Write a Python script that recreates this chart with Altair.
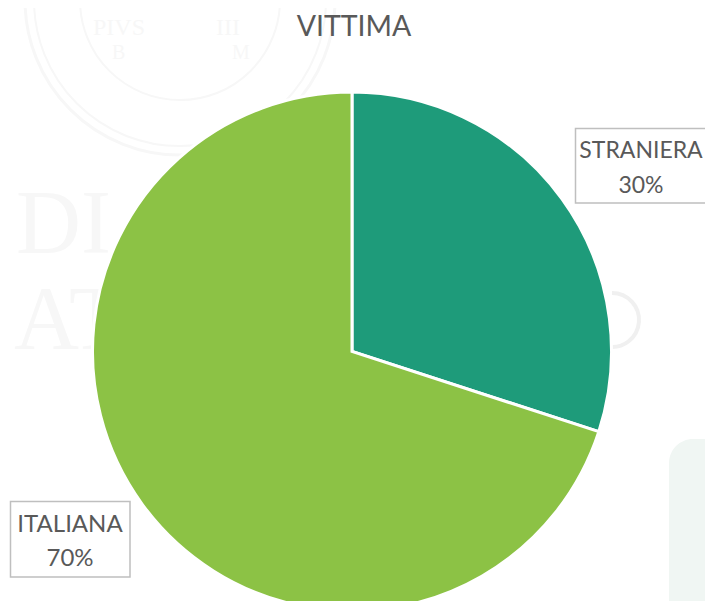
import altair as alt
import pandas as pd

labels = ["STRANIERA", "ITALIANA"]
shares = [30, 70]
colors = ["#1E9B7A", "#8CC245"]
title_text = "VITTIMA"
df = pd.DataFrame({"label": labels, "share": shares, "rank": [0, 1]})

GREY = "#595959"
FONT = "Lato"
FAINT = "#F7F7F7"
CX, CY, R = 344, 343.5, 259.5

one = pd.DataFrame({"a": [0]})

# faint background decoration
panel = alt.Chart(one).mark_rect(
    color="#F0F6F3", cornerRadius=24
).encode(x=alt.value(661), x2=alt.value(740), y=alt.value(431), y2=alt.value(640))

layers = [panel]
for rad, w in [(155, 3), (146, 2), (100, 2)]:
    layers.append(alt.Chart(one).mark_arc(
        filled=False, stroke=FAINT, strokeWidth=w, radius=rad, radius2=rad,
        theta=1.57, theta2=4.71,
    ).encode(x=alt.value(172), y=alt.value(-8)))
layers.append(alt.Chart(one).mark_arc(
    filled=False, stroke="#F0F0F0", strokeWidth=4, radius=27, radius2=27,
    theta=0, theta2=3.3,
).encode(x=alt.value(604), y=alt.value(312)))

faint_words = [
    ("DI", 8, 218, 90), ("AT", 6, 314, 90),
    ("PIVS", 85, 20, 24), ("III", 208, 20, 24), ("B", 104, 45, 20), ("M", 224, 45, 20),
]
for word, wx, wy, size in faint_words:
    layers.append(alt.Chart(pd.DataFrame({"t": [word]})).mark_text(
        font="Liberation Serif", fontSize=size, color=FAINT, align="left", baseline="middle"
    ).encode(text="t:N", x=alt.value(wx), y=alt.value(wy)))

pie = alt.Chart(df).mark_arc(stroke="white", strokeWidth=3, radius=R).encode(
    theta=alt.Theta("share:Q", stack=True, scale=alt.Scale(domain=[0, 100], range=[0, 6.28319])),
    order=alt.Order("rank:Q"),
    color=alt.Color("label:N", scale=alt.Scale(domain=labels, range=colors), legend=None),
    x=alt.value(CX), y=alt.value(CY),
)

title = alt.Chart(pd.DataFrame({"t": [title_text]})).mark_text(
    font=FONT, fontSize=28.5, color=GREY, align="center", baseline="middle"
).encode(text="t:N", x=alt.value(346), y=alt.value(19))
layers += [pie, title]

boxes = [
    ("STRANIERA", 567.5, 720, 120.5, 195, 633, 23),
    ("ITALIANA", 2.5, 122, 493.5, 569, 62, 24),
]
for name, x0, x1, y0, y1, cx, size in boxes:
    row = df[df.label == name].copy()
    row["line1"] = row.label
    row["line2"] = row.share.astype(str) + "%"
    base = alt.Chart(row)
    layers.append(base.mark_rect(fill="white", stroke="#BFBFBF", strokeWidth=1.5).encode(
        x=alt.value(x0), x2=alt.value(x1), y=alt.value(y0), y2=alt.value(y1)))
    mid = (y0 + y1) / 2
    for field, yy in [("line1", mid - 14.5), ("line2", mid + 20)]:
        layers.append(base.mark_text(font=FONT, fontSize=size, color=GREY, align="center", baseline="middle").encode(
            text=f"{field}:N", x=alt.value(cx), y=alt.value(yy)))

chart = alt.layer(*layers).properties(
    width=697, height=593, padding=0, autosize=alt.AutoSizeParams(type="none"),
    background="white",
).configure_view(stroke=None)

chart.save("out.html", embed_options={"renderer": "svg", "actions": False})
